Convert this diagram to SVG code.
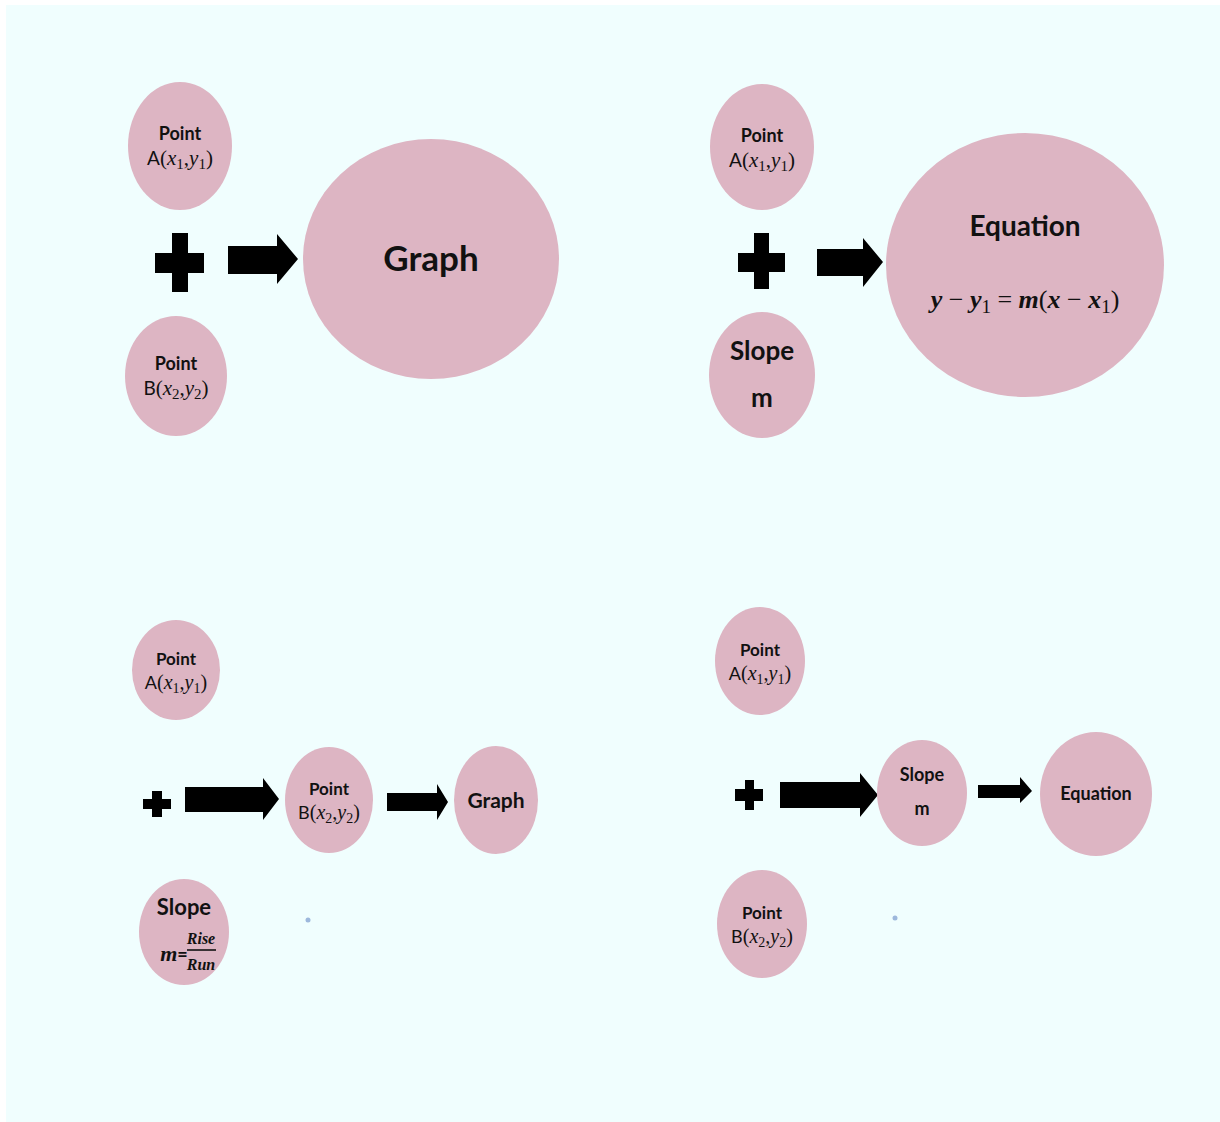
<svg xmlns="http://www.w3.org/2000/svg" width="1220" height="1122" viewBox="0 0 1220 1122">
<style>
.bg{fill:#F0FEFE}
.n{fill:#DDB5C3}
.t{font-family:Lato,"Liberation Sans",sans-serif;font-weight:bold;fill:#111;text-anchor:middle}
.s{font-family:"Liberation Serif","DejaVu Serif",serif;font-weight:normal}
.i{font-family:"Liberation Serif","DejaVu Serif",serif;font-style:italic;font-weight:normal}
.ib{font-family:"Liberation Serif","DejaVu Serif",serif;font-style:italic;font-weight:bold}
.k{fill:#000}
.dot{fill:#9DB8DC}
</style>
<rect x="0" y="0" width="1220" height="1122" fill="#ffffff"/>
<rect class="bg" x="6" y="5" width="1214" height="1117"/>

<g id="operators">
  <path class="k" d="M172 233H188V253H204V273H188V292H172V273H155V253H172Z"/>
  <path class="k" d="M754 233H769V253H785V272H769V289H754V272H738V253H754Z"/>
  <path class="k" d="M152 791H162V799H171V809H162V817H152V809H143V799H152Z"/>
  <path class="k" d="M745 780H754V789H763V801H754V810H745V801H735V789H745Z"/>
</g>

<g id="connectors">
  <polygon class="k" points="228,246 277,246 277,234 298,259 277,284 277,274 228,274"/>
  <polygon class="k" points="817,249 863,249 863,238 883,262 863,287 863,276 817,276"/>
  <polygon class="k" points="185,787 263,787 263,778 279,799 263,820 263,812 185,812"/>
  <polygon class="k" points="387,793 437,793 437,784 448,802 437,820 437,811 387,811"/>
  <polygon class="k" points="780,782 860,782 860,773 878,795 860,817 860,808 780,808"/>
  <polygon class="k" points="978,785 1020,785 1020,777 1032,791 1020,803 1020,798 978,798"/>
</g>

<!-- Top-left quadrant -->
<g id="tl-pointA">
  <ellipse class="n" cx="180" cy="146" rx="52" ry="64"/>
  <text class="t" x="180" y="140" font-size="18">Point</text>
  <text class="t" x="180" y="165" font-size="21"><tspan font-weight="normal" font-size="19">A</tspan><tspan class="s">(</tspan><tspan class="i">x</tspan><tspan class="s" font-size="15" dy="4">1</tspan><tspan class="s" dy="-4">,</tspan><tspan class="i">y</tspan><tspan class="s" font-size="15" dy="4">1</tspan><tspan class="s" dy="-4">)</tspan></text>
</g>
<g id="tl-pointB">
  <ellipse class="n" cx="176" cy="376" rx="51" ry="60"/>
  <text class="t" x="176" y="370" font-size="18">Point</text>
  <text class="t" x="176" y="395" font-size="21"><tspan font-weight="normal" font-size="19">B</tspan><tspan class="s">(</tspan><tspan class="i">x</tspan><tspan class="s" font-size="15" dy="4">2</tspan><tspan class="s" dy="-4">,</tspan><tspan class="i">y</tspan><tspan class="s" font-size="15" dy="4">2</tspan><tspan class="s" dy="-4">)</tspan></text>
</g>
<g id="tl-graph">
  <ellipse class="n" cx="431" cy="259" rx="128" ry="120"/>
  <text class="t" x="431" y="271" font-size="35">Graph</text>
</g>

<!-- Top-right quadrant -->
<g id="tr-pointA">
  <ellipse class="n" cx="762" cy="147" rx="52" ry="63"/>
  <text class="t" x="762" y="142" font-size="18">Point</text>
  <text class="t" x="762" y="167" font-size="21"><tspan font-weight="normal" font-size="19">A</tspan><tspan class="s">(</tspan><tspan class="i">x</tspan><tspan class="s" font-size="15" dy="4">1</tspan><tspan class="s" dy="-4">,</tspan><tspan class="i">y</tspan><tspan class="s" font-size="15" dy="4">1</tspan><tspan class="s" dy="-4">)</tspan></text>
</g>
<g id="tr-slope">
  <ellipse class="n" cx="762" cy="375" rx="53" ry="63"/>
  <text class="t" x="762" y="360" font-size="26">Slope</text>
  <text class="t" x="762" y="407" font-size="26">m</text>
</g>
<g id="tr-equation">
  <ellipse class="n" cx="1025" cy="265" rx="139" ry="132"/>
  <text class="t" x="1025" y="236" font-size="28">Equation</text>
  <text class="t" x="1025" y="308" font-size="26"><tspan class="ib">y</tspan><tspan class="s"> − </tspan><tspan class="ib">y</tspan><tspan class="s" font-weight="bold" font-size="19" dy="5">1</tspan><tspan class="s" dy="-5"> = </tspan><tspan class="ib">m</tspan><tspan class="s">(</tspan><tspan class="ib">x</tspan><tspan class="s"> − </tspan><tspan class="ib">x</tspan><tspan class="s" font-weight="bold" font-size="19" dy="5">1</tspan><tspan class="s" dy="-5">)</tspan></text>
</g>

<!-- Bottom-left quadrant -->
<g id="bl-pointA">
  <ellipse class="n" cx="176" cy="670" rx="44" ry="50"/>
  <text class="t" x="176" y="665" font-size="17">Point</text>
  <text class="t" x="176" y="689" font-size="20"><tspan font-weight="normal" font-size="18">A</tspan><tspan class="s">(</tspan><tspan class="i">x</tspan><tspan class="s" font-size="14" dy="4">1</tspan><tspan class="s" dy="-4">,</tspan><tspan class="i">y</tspan><tspan class="s" font-size="14" dy="4">1</tspan><tspan class="s" dy="-4">)</tspan></text>
</g>
<g id="bl-pointB">
  <ellipse class="n" cx="329" cy="800" rx="44" ry="53"/>
  <text class="t" x="329" y="795" font-size="17">Point</text>
  <text class="t" x="329" y="819" font-size="20"><tspan font-weight="normal" font-size="18">B</tspan><tspan class="s">(</tspan><tspan class="i">x</tspan><tspan class="s" font-size="14" dy="4">2</tspan><tspan class="s" dy="-4">,</tspan><tspan class="i">y</tspan><tspan class="s" font-size="14" dy="4">2</tspan><tspan class="s" dy="-4">)</tspan></text>
</g>
<g id="bl-graph">
  <ellipse class="n" cx="496" cy="800" rx="42" ry="54"/>
  <text class="t" x="496" y="808" font-size="21">Graph</text>
</g>
<g id="bl-slope">
  <ellipse class="n" cx="184" cy="932" rx="45" ry="53"/>
  <text class="t" x="184" y="915" font-size="22">Slope</text>
  <text class="t" x="174" y="961" font-size="22"><tspan class="ib">m</tspan><tspan font-size="18">=</tspan></text>
  <text class="t" x="201" y="944" font-size="16"><tspan class="ib">Rise</tspan></text>
  <line x1="187" y1="950" x2="216" y2="950" stroke="#111" stroke-width="1.6"/>
  <text class="t" x="201" y="970" font-size="16"><tspan class="ib">Run</tspan></text>
</g>
<circle class="dot" cx="308" cy="920" r="2.5"/>

<!-- Bottom-right quadrant -->
<g id="br-pointA">
  <ellipse class="n" cx="760" cy="661" rx="45" ry="54"/>
  <text class="t" x="760" y="656" font-size="17">Point</text>
  <text class="t" x="760" y="680" font-size="20"><tspan font-weight="normal" font-size="18">A</tspan><tspan class="s">(</tspan><tspan class="i">x</tspan><tspan class="s" font-size="14" dy="4">1</tspan><tspan class="s" dy="-4">,</tspan><tspan class="i">y</tspan><tspan class="s" font-size="14" dy="4">1</tspan><tspan class="s" dy="-4">)</tspan></text>
</g>
<g id="br-slope">
  <ellipse class="n" cx="922" cy="793" rx="45" ry="53"/>
  <text class="t" x="922" y="781" font-size="18">Slope</text>
  <text class="t" x="922" y="815" font-size="18">m</text>
</g>
<g id="br-equation">
  <ellipse class="n" cx="1096" cy="794" rx="56" ry="62"/>
  <text class="t" x="1096" y="800" font-size="18">Equation</text>
</g>
<g id="br-pointB">
  <ellipse class="n" cx="762" cy="924" rx="45" ry="54"/>
  <text class="t" x="762" y="919" font-size="17">Point</text>
  <text class="t" x="762" y="943" font-size="20"><tspan font-weight="normal" font-size="18">B</tspan><tspan class="s">(</tspan><tspan class="i">x</tspan><tspan class="s" font-size="14" dy="4">2</tspan><tspan class="s" dy="-4">,</tspan><tspan class="i">y</tspan><tspan class="s" font-size="14" dy="4">2</tspan><tspan class="s" dy="-4">)</tspan></text>
</g>
<circle class="dot" cx="895" cy="918" r="2.5"/>
</svg>
